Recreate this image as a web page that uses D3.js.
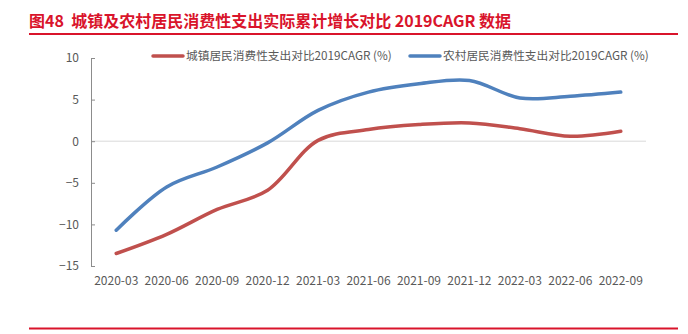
<!doctype html>
<html lang="zh">
<head>
<meta charset="utf-8">
<title>城镇及农村居民消费性支出</title>
<script src="https://d3js.org/d3.v7.min.js"></script>
<style>
  body { margin: 0; background: #fff; }
  svg text { font-family: "Noto Sans CJK SC", "Noto Sans", sans-serif; }
</style>
</head>
<body>
<div id="chart"></div>
<script>
// data
const quarters = ['2020-03','2020-06','2020-09','2020-12','2021-03','2021-06','2021-09','2021-12','2022-03','2022-06','2022-09'];
const urban = [-13.5, -11.2, -8.2, -5.9, 0.1, 1.4, 2.0, 2.2, 1.5, 0.6, 1.2];
const rural = [-10.7, -5.5, -3.1, -0.2, 3.7, 5.9, 6.9, 7.3, 5.2, 5.4, 5.9];
const yTicks = [-15, -10, -5, 0, 5, 10];
const seriesNames = ['城镇居民消费性支出对比2019CAGR (%)', '农村居民消费性支出对比2019CAGR (%)'];
const seriesColors = ['#c0504d', '#4f81bd'];

const w = 688, h = 334;
const margin = {top: 58, right: 42, bottom: 68, left: 91};

const svg = d3.select('#chart').append('svg')
  .attr('width', w)
  .attr('height', h);

// title + rules
svg.append('text')
  .attr('x', 29)
  .attr('y', 27)
  .attr('fill', '#d9142b')
  .attr('font-size', '16px')
  .attr('font-weight', 'bold')
  .style('white-space', 'pre')
  .text('图48  城镇及农村居民消费性支出实际累计增长对比 2019CAGR 数据');

svg.append('line')
  .attr('x1', 29).attr('x2', 678)
  .attr('y1', 34).attr('y2', 34)
  .attr('stroke', '#d9142b').attr('stroke-width', 2);

svg.append('line')
  .attr('x1', 29).attr('x2', 678)
  .attr('y1', 328.5).attr('y2', 328.5)
  .attr('stroke', '#d9142b').attr('stroke-width', 2);

const x = d3.scaleBand()
  .domain(quarters)
  .range([margin.left, w - margin.right]);

const y = d3.scaleLinear()
  .domain([-15, 10])
  .range([h - margin.bottom, margin.top]);

// zero gridline
svg.append('line')
  .attr('x1', margin.left).attr('x2', w - margin.right)
  .attr('y1', y(0)).attr('y2', y(0))
  .attr('stroke', '#d9d9d9').attr('stroke-width', 1);

// y axis, ticks pointing inward
const yAxis = svg.append('g')
  .attr('transform', 'translate(' + margin.left + ',0)')
  .call(d3.axisRight(y).tickValues(yTicks).tickSize(4).tickSizeOuter(0).tickFormat(d3.format('d')));
yAxis.select('.domain').attr('stroke', '#8c8c8c');
yAxis.selectAll('.tick line').attr('stroke', '#8c8c8c');
yAxis.selectAll('.tick text')
  .attr('x', -12)
  .attr('text-anchor', 'end')
  .attr('fill', '#595959')
  .attr('font-size', '12px');

// x labels
const xAxis = svg.append('g')
  .attr('transform', 'translate(0,' + (h - margin.bottom) + ')')
  .call(d3.axisBottom(x).tickSize(0).tickPadding(10));
xAxis.select('.domain').remove();
xAxis.selectAll('.tick text')
  .attr('fill', '#595959')
  .attr('font-size', '12px');

// lines
const line = d3.line()
  .x((d, i) => x(quarters[i]) + x.bandwidth() / 2)
  .y(d => y(d))
  .curve(d3.curveCatmullRom.alpha(0.5));

[urban, rural].forEach((s, i) => {
  svg.append('path')
    .datum(s)
    .attr('fill', 'none')
    .attr('stroke', seriesColors[i])
    .attr('stroke-width', 3.5)
    .attr('stroke-linecap', 'round')
    .attr('d', line);
});

// legend
const legendX = [153, 410];
seriesNames.forEach((name, i) => {
  const g = svg.append('g').attr('transform', 'translate(' + legendX[i] + ',56)');
  g.append('line')
    .attr('x1', 0).attr('x2', 30)
    .attr('stroke', seriesColors[i])
    .attr('stroke-width', 3.5)
    .attr('stroke-linecap', 'round');
  g.append('text')
    .attr('x', 33)
    .attr('dy', '0.35em')
    .attr('fill', '#595959')
    .attr('font-size', '11.7px')
    .text(name);
});
</script>
</body>
</html>
